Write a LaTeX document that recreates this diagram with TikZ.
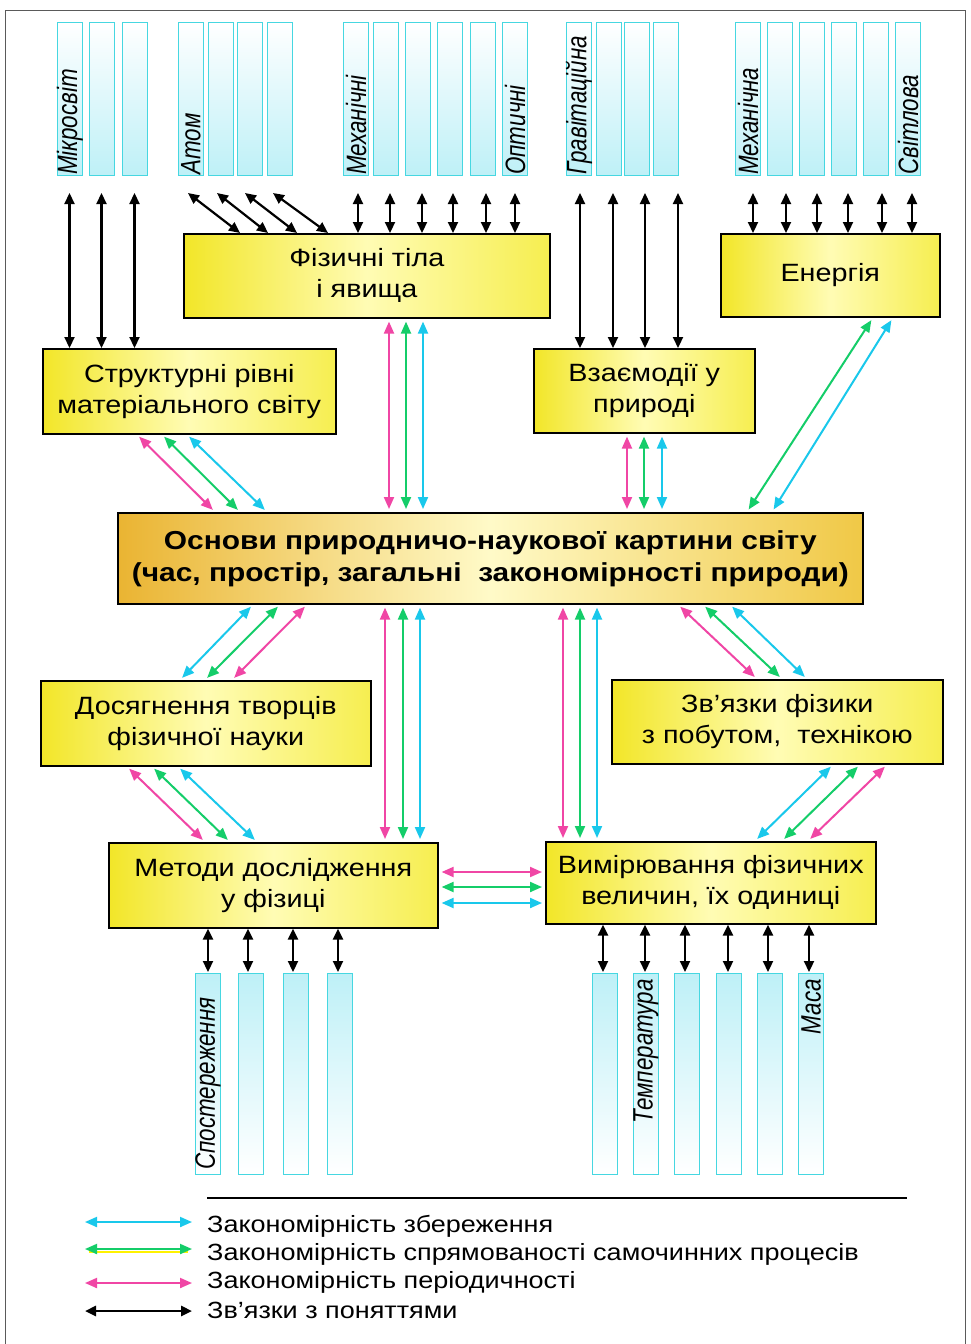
\documentclass[tikz,border=0pt]{standalone}
\usepackage{fontspec}
\setmainfont[FakeStretch=1.15]{Liberation Sans}
\newfontfamily\lblfont[FakeStretch=0.8]{Liberation Sans}
\usetikzlibrary{arrows.meta}
\definecolor{pk}{RGB}{240,70,165}
\definecolor{gr}{RGB}{20,205,105}
\definecolor{cy}{RGB}{25,200,235}
\definecolor{stripc}{RGB}{70,215,225}
\definecolor{stripf}{RGB}{190,240,247}
\definecolor{yl}{RGB}{242,230,40}
\definecolor{ylr}{RGB}{246,238,80}
\definecolor{ylm}{RGB}{255,252,180}
\definecolor{orl}{RGB}{234,180,50}
\definecolor{orr}{RGB}{240,200,70}
\definecolor{orm}{RGB}{255,250,200}
\definecolor{frame}{RGB}{90,90,90}
\tikzset{
  box/.style={draw=black, line width=1.6pt, inner sep=0pt, anchor=north west, align=center,
    font=\fontsize{25}{31}\selectfont, left color=yl, right color=ylr, middle color=ylm},
  cbox/.style={box, left color=orl, right color=orr, middle color=orm,
    font=\bfseries\fontsize{26}{32}\selectfont},
  tstrip/.style={draw=stripc, line width=1pt, inner sep=0pt, minimum width=25pt, minimum height=153pt,
    anchor=north west, top color=white, bottom color=stripf},
  bstrip/.style={draw=stripc, line width=1pt, inner sep=0pt, minimum width=25pt, minimum height=201pt,
    anchor=north west, top color=stripf, bottom color=white},
  lbl/.style={rotate=90, inner sep=1pt, font=\lblfont\itshape\fontsize{28}{28}\selectfont},
  blk/.style={line width=2.2pt, {Triangle[length=11pt,width=10pt]}-{Triangle[length=11pt,width=10pt]}},
  col/.style={line width=2pt, {Triangle[length=12pt,width=10pt]}-{Triangle[length=12pt,width=10pt]},
    shorten <=3pt, shorten >=3pt},
  leg/.style={anchor=west, inner sep=0pt, font=\fontsize{23.5}{23.5}\selectfont},
}
\begin{document}
\begin{tikzpicture}[x=1pt,y=-1pt]
\useasboundingbox (0,0) rectangle (970,1344);
\fill[white] (0,0) rectangle (970,1344);
\draw[line width=1pt, frame] (5,1344) -- (5,10) -- (965,10) -- (965,1344);

% top strips
\foreach \x [count=\i] in {57,89,122,178,208,237,267,343,373,405,437,470,502,566,596,624,653,735,767,799,831,863,895}
  {\node[tstrip] (t\i) at (\x,22) {};}
\node[lbl, anchor=west] (lt1) at (t1.south) {Мікросвіт};
\node[lbl, anchor=west] (lt4) at (t4.south) {Атом};
\node[lbl, anchor=west] (lt8) at (t8.south) {Механічні};
\node[lbl, anchor=west] (lt13) at (t13.south) {Оптичні};
\node[lbl, anchor=west] (lt14) at (t14.south) {Гравітаційна};
\node[lbl, anchor=west] (lt18) at (t18.south) {Механічна};
\node[lbl, anchor=west] (lt23) at (t23.south) {Світлова};

% bottom strips
\foreach \x [count=\i] in {195,238,283,327,592,633,674,716,757,798}
  {\node[bstrip] (b\i) at (\x,973) {};}
\node[lbl, anchor=west] (lb1) at ([yshift=4pt]b1.south) {Спостереження};
\node[lbl, anchor=east] (lb6) at ([yshift=-5pt]b6.north) {Температура};
\node[lbl, anchor=east] (lb10) at ([yshift=-5pt]b10.north) {Маса};

% boxes
\node[box, minimum width=366pt, minimum height=84pt] (fiz) at (183,233) {Фізичні тіла\\і явища};
\node[box, minimum width=219pt, minimum height=83pt] (en) at (720,233) {Енергія};
\node[box, minimum width=293pt, minimum height=85pt] (str) at (42,348) {Структурні рівні\\матеріального світу};
\node[box, minimum width=221pt, minimum height=84pt] (vz) at (533,348) {Взаємодії у\\природі};
\node[cbox, minimum width=745pt, minimum height=91pt] (osn) at (117,512) {Основи природничо-наукової картини світу\\(час, простір, загальні\ \ закономірності природи)};
\node[box, minimum width=330pt, minimum height=85pt] (dos) at (40,680) {Досягнення творців\\фізичної науки};
\node[box, minimum width=331pt, minimum height=84pt] (zv) at (611,679) {Зв’язки фізики\\з побутом,\ \ технікою};
\node[box, minimum width=329pt, minimum height=85pt] (met) at (108,842) {Методи дослідження\\у фізиці};
\node[box, minimum width=330pt, minimum height=82pt] (vym) at (545,841) {Вимірювання фізичних\\величин, їх одиниці};

% black arrows top
\foreach \x in {69.5,101.5,134.5} {\draw[blk] (\x,193) -- ([xshift=\x-42]str.north west);}
\foreach \a/\b in {188/240,217/268,245/297,273/328} {\draw[blk] (\a,193) -- ([xshift=\b-183]fiz.north west);}
\foreach \x in {358,390,422,453,486,515} {\draw[blk] (\x,193) -- ([xshift=\x-183]fiz.north west);}
\foreach \x in {580,613,645,678} {\draw[blk] (\x,193) -- ([xshift=\x-533]vz.north west);}
\foreach \x in {753,786,817,848,882,912} {\draw[blk] (\x,193) -- ([xshift=\x-720]en.north west);}

% black arrows bottom
\foreach \x in {208,248,293,338} {\draw[blk] ([xshift=\x-108]met.south west) -- (\x,972);}
\foreach \x in {603,645,685,728,768,809} {\draw[blk] ([xshift=\x-545]vym.south west) -- (\x,972);}

% coloured arrows
\foreach \c/\x in {pk/389,gr/406,cy/423} {\draw[col,\c] ([xshift=\x-183]fiz.south west) -- ([xshift=\x-117]osn.north west);}
\foreach \c/\x in {pk/627,gr/644,cy/662} {\draw[col,\c] ([xshift=\x-533]vz.south west) -- ([xshift=\x-117]osn.north west);}
\foreach \c/\a/\b in {pk/137/215,gr/162/240,cy/187/267} {\draw[col,\c] ([xshift=\a-42]str.south west) -- ([xshift=\b-117]osn.north west);}
\foreach \c/\a/\b in {gr/873/747,cy/893/772} {\draw[col,\c] ([xshift=\a-720]en.south west) -- ([xshift=\b-117]osn.north west);}
\foreach \c/\a/\b in {cy/253/180,gr/280/205,pk/307/232} {\draw[col,\c] ([xshift=\a-117]osn.south west) -- ([xshift=\b-40]dos.north west);}
\foreach \c/\x in {pk/385,gr/403,cy/420} {\draw[col,\c] ([xshift=\x-117]osn.south west) -- ([xshift=\x-108]met.north west);}
\foreach \c/\a/\b in {pk/127/205,gr/152/230,cy/178/257} {\draw[col,\c] ([xshift=\a-40]dos.south west) -- ([xshift=\b-108]met.north west);}
\foreach \c/\x in {pk/563,gr/580,cy/597} {\draw[col,\c] ([xshift=\x-117]osn.south west) -- ([xshift=\x-545]vym.north west);}
\foreach \c/\a/\b in {pk/678/757,gr/703/782,cy/730/807} {\draw[col,\c] ([xshift=\a-117]osn.south west) -- ([xshift=\b-611]zv.north west);}
\foreach \c/\a/\b in {cy/833/755,gr/860/782,pk/887/808} {\draw[col,\c] ([xshift=\a-611]zv.south west) -- ([xshift=\b-545]vym.north west);}
\foreach \c/\y in {pk/872,gr/887,cy/903} {\draw[col,\c] ([yshift=842-\y]met.north east) -- ([yshift=841-\y]vym.north west);}

% legend
\draw[line width=1.4pt] (207,1198) -- (907,1198);
\coordinate (l1a) at (85,1222); \coordinate (l1b) at (192,1222);
\coordinate (l2a) at (85,1249); \coordinate (l2b) at (192,1249);
\coordinate (l3a) at (85,1283); \coordinate (l3b) at (192,1283);
\coordinate (l4a) at (85,1311); \coordinate (l4b) at (192,1311);
\draw[col, cy, shorten <=0pt, shorten >=0pt] (l1a) -- (l1b);
\draw[line width=2.2pt, yellow, shorten <=4pt, shorten >=4pt] ([yshift=-3pt]l2a) -- ([yshift=-3pt]l2b);
\draw[col, gr, shorten <=0pt, shorten >=0pt] (l2a) -- (l2b);
\draw[col, pk, shorten <=0pt, shorten >=0pt] (l3a) -- (l3b);
\draw[blk, line width=2.6pt] (l4a) -- (l4b);
\node[leg] (g1) at (207,1226) {Закономірність збереження};
\node[leg] (g2) at (207,1254) {Закономірність спрямованості самочинних процесів};
\node[leg] (g3) at (207,1282) {Закономірність періодичності};
\node[leg] (g4) at (207,1310) {Зв’язки з поняттями};
\end{tikzpicture}
\end{document}
